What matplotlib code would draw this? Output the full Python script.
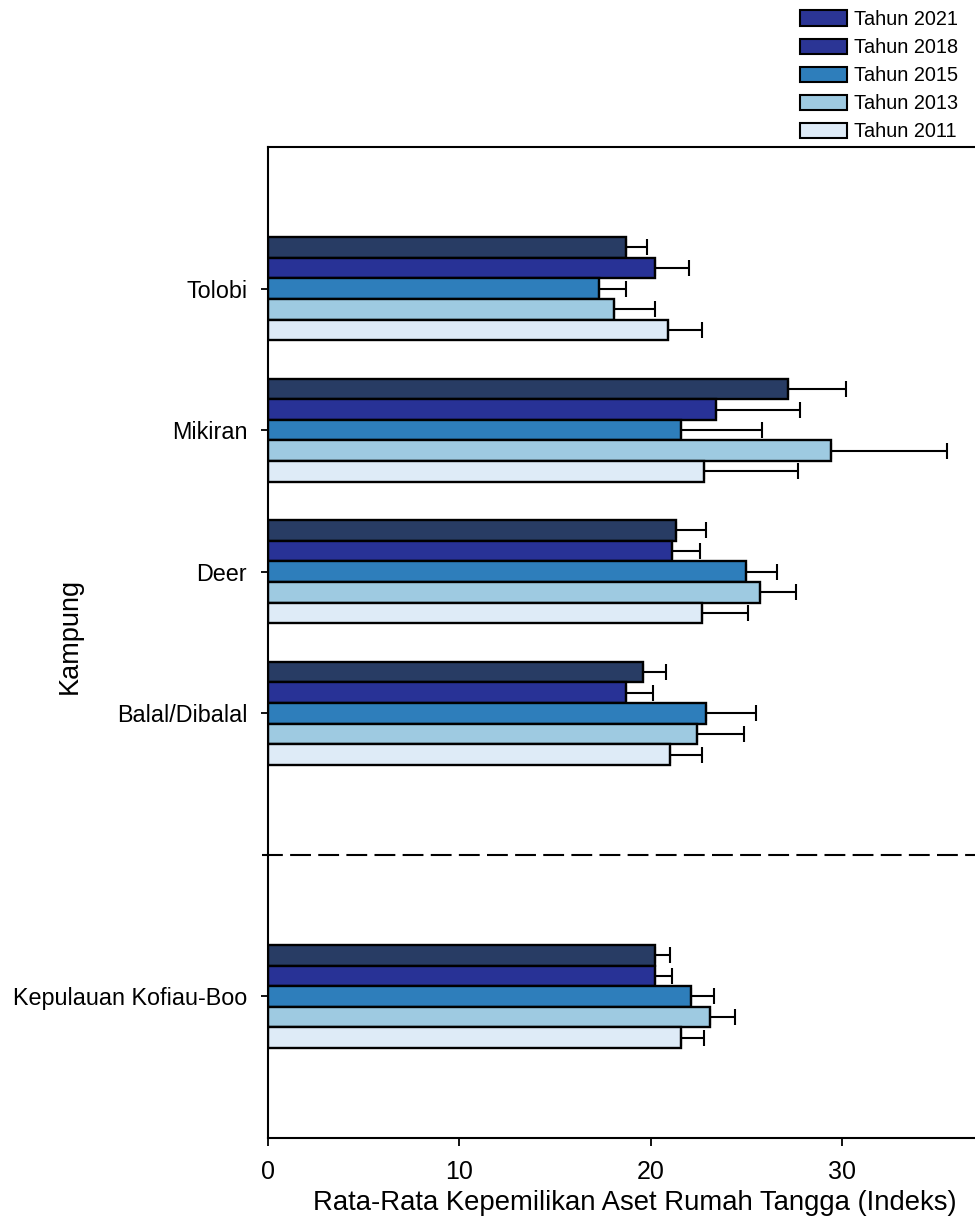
import matplotlib.pyplot as plt
from matplotlib.patches import Patch
import numpy as np

plt.rcParams['font.family'] = ['Liberation Sans', 'DejaVu Sans']

kampung = ['Tolobi', 'Mikiran', 'Deer', 'Balal/Dibalal', 'Kepulauan Kofiau-Boo']
years = ['Tahun 2021', 'Tahun 2018', 'Tahun 2015', 'Tahun 2013', 'Tahun 2011']

# mean index per kampung, one list per year
tahun2021 = [18.7, 27.2, 21.3, 19.6, 20.2]
tahun2018 = [20.2, 23.4, 21.1, 18.7, 20.2]
tahun2015 = [17.3, 21.6, 25.0, 22.9, 22.1]
tahun2013 = [18.1, 29.4, 25.7, 22.4, 23.1]
tahun2011 = [20.9, 22.8, 22.7, 21.0, 21.6]

# error bars (positive side only)
err2021 = [1.1, 3.0, 1.6, 1.2, 0.8]
err2018 = [1.8, 4.4, 1.5, 1.4, 0.9]
err2015 = [1.4, 4.2, 1.6, 2.6, 1.2]
err2013 = [2.1, 6.1, 1.9, 2.5, 1.3]
err2011 = [1.8, 4.9, 2.4, 1.7, 1.2]

values = [tahun2021, tahun2018, tahun2015, tahun2013, tahun2011]
errors = [err2021, err2018, err2015, err2013, err2011]

barColors = ['#283c64', '#283296', '#2e7ebb', '#9ecae1', '#deebf7']
legendColors = ['#2b3595', '#2b3595', '#2e7ebb', '#9ecae1', '#deebf7']

groupPos = np.array([0, 1, 2, 3, 5])
h = 0.1457

fig = plt.figure(figsize=(9.75, 12.27), dpi=100)
ax = fig.add_axes([0.2749, 0.0725, 0.7251, 0.8077])

for i in range(len(years)):
    y = groupPos + (i - 2) * h
    ax.barh(y, values[i], height=h, color=barColors[i], edgecolor='black', linewidth=1.7, zorder=2)
    ax.errorbar(values[i], y, xerr=[np.zeros(len(errors[i])), errors[i]], fmt='none',
                ecolor='black', elinewidth=1.5, capsize=6, capthick=1.5, zorder=3)

ax.axhline(4, xmin=-0.009, xmax=1, color='black', linestyle=(0, (10, 3.5)), linewidth=1.5, clip_on=False)

ax.set_xlim(0, 36.95)
ax.set_ylim(6, -1)
ax.set_yticks(groupPos)
ax.set_yticklabels(kampung, fontsize=16.8)
ax.set_xticks([0, 10, 20, 30])
ax.tick_params(axis='x', labelsize=18, length=6, width=1.3, pad=10)
ax.tick_params(axis='y', length=5, width=1.3, pad=10)
ax.spines['right'].set_visible(False)
for s in ['left', 'top', 'bottom']:
    ax.spines[s].set_linewidth(1.5)

fig.text(0.651, 0.0195, 'Rata-Rata Kepemilikan Aset Rumah Tangga (Indeks)', fontsize=19.8, ha='center', va='center')
fig.text(0.0718, 0.482, 'Kampung', fontsize=19.5, rotation=90, ha='center', va='center')

handles = [Patch(facecolor=c, edgecolor='black', linewidth=1.5) for c in legendColors]
fig.legend(handles, years, loc='upper left', bbox_to_anchor=(0.81, 1.0), frameon=False,
           fontsize=14.3, handlelength=2.4, handleheight=0.8, handletextpad=0.35, labelspacing=0.46,
           borderaxespad=0.1)

plt.savefig('out.png', dpi=100)
